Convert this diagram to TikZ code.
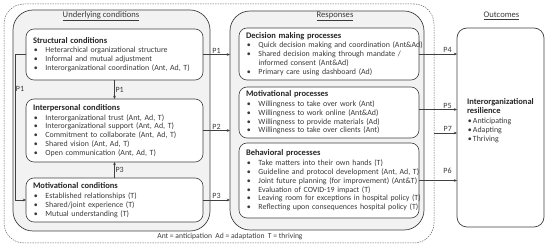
\documentclass[tikz,border=0pt]{standalone}
\usepackage{fontspec}
\setmainfont{Carlito}
\usetikzlibrary{arrows.meta,positioning,calc}
\definecolor{cLine}{HTML}{404040}
\definecolor{cGrey}{HTML}{F2F2F2}
\definecolor{cText}{HTML}{3A3A3A}
\newcommand\itm[1]{\makebox[12.5pt][l]{\hspace{0.8pt}\textbullet}\mbox{#1}}
\newcommand\cnt[1]{\hspace*{12.5pt}\mbox{#1}}
\newcommand\oitm[1]{\makebox[6pt][l]{\hspace{0.8pt}\textbullet}\mbox{#1}}
\newcommand\hd[1]{{\fontsize{8.5}{9}\selectfont\bfseries\color{black!85}#1}}
\tikzset{
  grp/.style ={draw=cLine,fill=cGrey,rounded corners=20pt,line width=0.7pt,
               inner sep=0pt},
  blk/.style ={draw=cLine,fill=white,rounded corners=8pt,line width=0.6pt,
               align=left,inner xsep=7pt,inner ysep=2pt,
               font=\fontsize{7.9}{8.8}\selectfont,text=cText},
  ttl/.style ={font=\fontsize{8.6}{9}\selectfont,text=cText,inner sep=1pt},
  sig/.style ={-{Stealth[length=3.2pt,width=2.8pt]},draw=cLine,line width=0.6pt},
  tag/.style ={font=\fontsize{8}{9}\selectfont,text=cText,inner sep=1pt},
}
\begin{document}
\begin{tikzpicture}[x=1pt,y=-1pt,every node/.style={outer sep=0pt}]
\useasboundingbox (0,0) rectangle (550,248);

% ---- frames --------------------------------------------------------------
\node[draw=black!60,dash pattern=on 1.5pt off 1pt,rounded corners=20pt,
      line width=0.5pt,minimum width=430pt,minimum height=239pt,inner sep=0pt]
      (frame) at (219,123.5) {};
\node[grp,minimum width=197pt,minimum height=221pt] (under) at (111.5,120.5) {};
\node[grp,minimum width=194pt,minimum height=219pt] (resp)  at (327,120.5) {};
\node[draw=cLine,fill=white,rounded corners=10pt,line width=0.7pt,inner sep=0pt,
      minimum width=87pt,minimum height=199pt] (outc) at (500.5,127.5) {};

\node[ttl] (tunder) at (101,16)   {\underline{Underlying conditions}};
\node[ttl] (tresp)  at (335,16)   {\underline{Responses}};
\node[ttl] (tout)   at (501.5,16) {\underline{Outcomes}};

% ---- underlying conditions -----------------------------------------------
\node[blk,text width=163pt,minimum height=51pt] (struct) at (114.5,54.5)
  {\hd{Structural conditions}\\[1pt]
   \itm{Heterarchical organizational structure}\\
   \itm{Informal and mutual adjustment}\\
   \itm{Interorganizational coordination (Ant, Ad, T)}};
\node[blk,text width=163pt,minimum height=63pt] (interp) at (114.5,130.5)
  {\hd{Interpersonal conditions}\\[1pt]
   \itm{Interorganizational trust (Ant, Ad, T)}\\
   \itm{Interorganizational support (Ant, Ad, T)}\\
   \itm{Commitment to collaborate (Ant, Ad, T)}\\
   \itm{Shared vision (Ant, Ad, T)}\\
   \itm{Open communication (Ant, Ad, T)}};
\node[blk,text width=163pt,minimum height=44pt] (motivc) at (114.5,200)
  {\hd{Motivational conditions}\\[1pt]
   \itm{Established relationships (T)}\\
   \itm{Shared/joint experience (T)}\\
   \itm{Mutual understanding (T)}};

% ---- responses -----------------------------------------------------------
\node[blk,text width=166pt,minimum height=52pt] (decis) at (329,54)
  {\hd{Decision making processes}\\[1pt]
   \itm{Quick decision making and coordination (Ant\&Ad)}\\
   \itm{Shared decision making through mandate /}\\
   \cnt{informed consent (Ant\&Ad)}\\
   \itm{Primary care using dashboard (Ad)}};
\node[blk,text width=166pt,minimum height=51pt] (motivp) at (329,112.5)
  {\hd{Motivational processes}\\[1pt]
   \itm{Willingness to take over work (Ant)}\\
   \itm{Willingness to work online (Ant\&Ad)}\\
   \itm{Willingness to provide materials (Ad)}\\
   \itm{Willingness to take over clients (Ant)}};
\node[blk,text width=166pt,minimum height=75pt] (behav) at (329,180.5)
  {\hd{Behavioral processes}\\[1pt]
   \itm{Take matters into their own hands (T)}\\
   \itm{Guideline and protocol development (Ant, Ad, T)}\\
   \itm{Joint future planning (for improvement) (Ant\&T)}\\
   \itm{Evaluation of COVID-19 impact (T)}\\
   \itm{Leaving room for exceptions in hospital policy (T)}\\
   \itm{Reflecting upon consequences hospital policy (T)}};

% ---- outcomes ------------------------------------------------------------
\node[blk,draw=none,fill=none,anchor=north west,inner sep=0pt] (resil) at (467,99)
  {\hd{Interorganizational}\\
   \hd{resilience}\\[1pt]
   \oitm{Anticipating}\\
   \oitm{Adapting}\\
   \oitm{Thriving}};

\node[tag,font=\fontsize{7.6}{8}\selectfont] (legend) at (230,237)
  {Ant = anticipation\ \ Ad = adaptation\ \ T = thriving};

% ---- connectors ----------------------------------------------------------
\draw[sig] (struct.south) -- node[tag,right] {P1} (interp.north);
\draw[sig] (motivc.north) -- node[tag,right] {P3} (interp.south);
\draw[sig] (struct.west) -- ++(-11,0) |- node[tag,right,pos=0.12] {P1} (motivc.west);
\draw[sig] (struct.east) -- node[tag,above] {P1} (struct.east -| resp.west);
\draw[sig] (interp.east) -- node[tag,above] {P2} (interp.east -| resp.west);
\draw[sig] (motivc.east) -- node[tag,above] {P3} (motivc.east -| resp.west);
\draw[sig] (decis.east) -- node[tag,above,pos=0.75] {P4} (decis.east -| outc.west);
\draw[sig] ([yshift=3pt]motivp.east) -- node[tag,above,pos=0.75] {P5}
  ([yshift=3pt]motivp.east -| outc.west);
\draw[sig] ([yshift=-9.5pt]frame.east) -- node[tag,above,pos=0.6] {P7}
  ([yshift=-9.5pt]frame.east -| outc.west);
\draw[sig] (behav.east) -- node[tag,above=6pt,pos=0.75] {P6} (behav.east -| outc.west);
\end{tikzpicture}
\end{document}
